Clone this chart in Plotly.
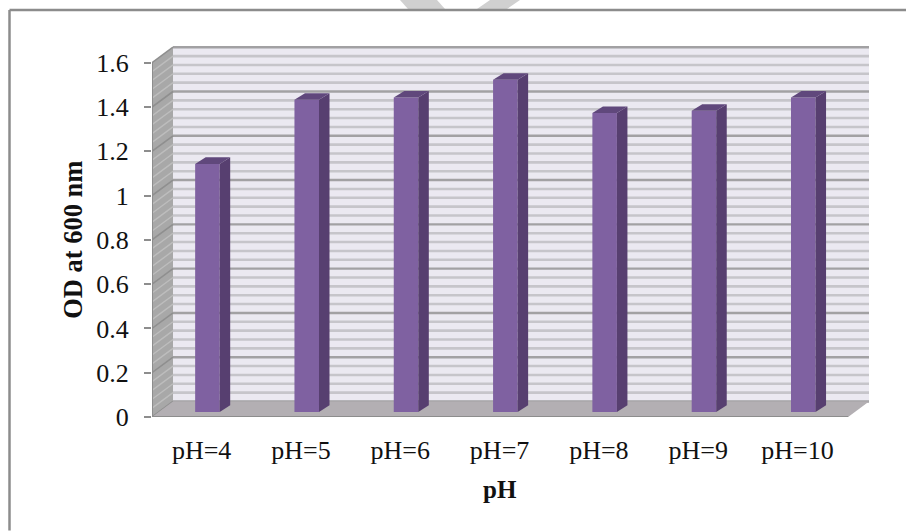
import plotly.graph_objects as go

categories = ["pH=4", "pH=5", "pH=6", "pH=7", "pH=8", "pH=9", "pH=10"]
od_values = [1.12, 1.41, 1.42, 1.50, 1.35, 1.36, 1.42]
y_ticks = [0, 0.2, 0.4, 0.6, 0.8, 1, 1.2, 1.4, 1.6]
y_tick_labels = ["0", "0.2", "0.4", "0.6", "0.8", "1", "1.2", "1.4", "1.6"]

W, H = 906, 531
FONT = "Liberation Serif"
ML, MR, MT, MB = 152, 37, 40, 113.7
XMIN, XMAX, YMAX = -0.5, 6.72, 1.7026
FRONT_R = 6.51          # right end of the front plane (category units)
DX, DY = 0.2115, 0.07   # depth of the chart box
BAR_OFF, BAR_W, BAR_BASE = 0.058, 0.247, 0.0226
BDX, BDY = 0.106, 0.03  # depth of a bar

WALL = "#ebe9f1"
MINOR = "#c6c5ca"
MAJOR = "#a2a1a3"
SIDE = "#a8a8a8"
FLOOR = "#b3afb3"
BAR_FRONT = "#7f61a1"
BAR_SIDE = "#573f70"
BAR_TOP = "#60487c"
TEXT = "#111111"


def px(x):
    return (x - ML) / (W - ML - MR)


def py(y):
    return (H - MB - y) / (H - MT - MB)


def poly(xs, ys, color, axes="", line=0):
    return go.Scatter(x=xs, y=ys, mode="lines", fill="toself", fillcolor=color,
                      line=dict(color=color, width=line), hoverinfo="skip",
                      showlegend=False, xaxis="x" + axes, yaxis="y" + axes)


def lines(seg, color, width):
    xs, ys = [], []
    for a, b, c, d in seg:
        xs += [a, c, None]
        ys += [b, d, None]
    return go.Scatter(x=xs, y=ys, mode="lines", line=dict(color=color, width=width),
                      hoverinfo="skip", showlegend=False)


minor = [k * 0.04 for k in range(1, 41) if k % 5]
fig = go.Figure()
# back wall, side wall, floor
fig.add_trace(poly([XMIN + DX, XMAX, XMAX, XMIN + DX], [DY, DY, 1.6 + DY, 1.6 + DY], WALL))
fig.add_trace(poly([XMIN, XMIN + DX, XMIN + DX, XMIN], [0, DY, 1.6 + DY, 1.6], SIDE))
fig.add_trace(lines([(XMIN + DX, v + DY, XMAX, v + DY) for v in minor], MINOR, 2.6))
fig.add_trace(lines([(XMIN + DX, v + DY, XMAX, v + DY) for v in y_ticks], MAJOR, 2.4))
fig.add_trace(lines([(XMIN, v, XMIN + DX, v + DY) for v in minor], "#bdbdbd", 1.4))
fig.add_trace(lines([(XMIN, v, XMIN + DX, v + DY) for v in y_ticks], "#8f8f8f", 1.6))
fig.add_trace(poly([XMIN, FRONT_R, XMAX, XMIN + DX], [0, 0, DY, DY], FLOOR))
fig.add_trace(lines([(XMIN, 0, FRONT_R, 0), (XMIN, 0, XMIN, 1.6)], "#8d8d8d", 2))

# bars
xc = [i + BAR_OFF for i in range(len(od_values))]
fig.add_trace(go.Bar(x=xc, y=od_values, base=BAR_BASE, width=BAR_W, xaxis="x2", yaxis="y2",
                     marker=dict(color=BAR_FRONT, line=dict(width=0)), showlegend=False,
                     hovertemplate="%{y}<extra></extra>"))
for c, v in zip(xc, od_values):
    r, l, t = c + BAR_W / 2, c - BAR_W / 2, BAR_BASE + v
    fig.add_trace(poly([r, r + BDX, r + BDX, r], [BAR_BASE, BAR_BASE + BDY, t + BDY, t], BAR_SIDE, "2"))
    fig.add_trace(poly([l, r, r + BDX, l + BDX], [t, t, t + BDY, t + BDY], BAR_TOP, "2"))

tick_font = dict(family=FONT, size=26, color=TEXT)
fig.update_layout(
    width=W, height=H, margin=dict(l=ML, r=MR, t=MT, b=MB),
    paper_bgcolor="white", plot_bgcolor="rgba(0,0,0,0)", showlegend=False, barmode="overlay",
    xaxis=dict(range=[XMIN, XMAX], tickmode="array", tickvals=list(range(7)), ticktext=categories,
               showgrid=False, zeroline=False, showline=False, ticks="", tickfont=tick_font,
               ticklabelstandoff=15),
    yaxis=dict(range=[0, YMAX], tickmode="array", tickvals=y_ticks, ticktext=y_tick_labels,
               showgrid=False, zeroline=False, showline=False, ticks="outside", ticklen=7,
               tickwidth=2, tickcolor="#8d8d8d", tickfont=tick_font, ticklabelstandoff=10),
    xaxis2=dict(range=[XMIN, XMAX], overlaying="x", visible=False),
    yaxis2=dict(range=[0, YMAX], overlaying="y", visible=False),
    annotations=[
        dict(text="<b>OD at 600 nm</b>", textangle=-90, x=px(73), y=py(240), xref="paper", yref="paper",
             showarrow=False, font=dict(family=FONT, size=26.5, color=TEXT), xanchor="center", yanchor="middle"),
        dict(text="<b>pH</b>", x=px(500), y=py(490), xref="paper", yref="paper",
             showarrow=False, font=dict(family=FONT, size=25, color=TEXT), xanchor="center", yanchor="middle"),
    ],
    shapes=[
        dict(type="path", xref="paper", yref="paper", fillcolor="#d0d0d0", line=dict(width=0),
             path=f"M {px(400)} {py(0)} L {px(408)} {py(9)} L {px(445)} {py(9)} L {px(437)} {py(0)} Z"),
        dict(type="path", xref="paper", yref="paper", fillcolor="#d0d0d0", line=dict(width=0),
             path=f"M {px(477)} {py(9)} L {px(490)} {py(0)} L {px(520)} {py(0)} L {px(507)} {py(9)} Z"),
        dict(type="line", xref="paper", yref="paper", x0=px(9.5), x1=px(906), y0=py(10), y1=py(10),
             line=dict(color="#8c8c8c", width=2.5)),
        dict(type="line", xref="paper", yref="paper", x0=px(9.5), x1=px(9.5), y0=py(531), y1=py(10),
             line=dict(color="#8c8c8c", width=2.5)),
    ],
)
fig.write_html("out.html", config={"displayModeBar": False},
               post_script="document.body.style.margin='0';document.documentElement.style.overflow='hidden';")
